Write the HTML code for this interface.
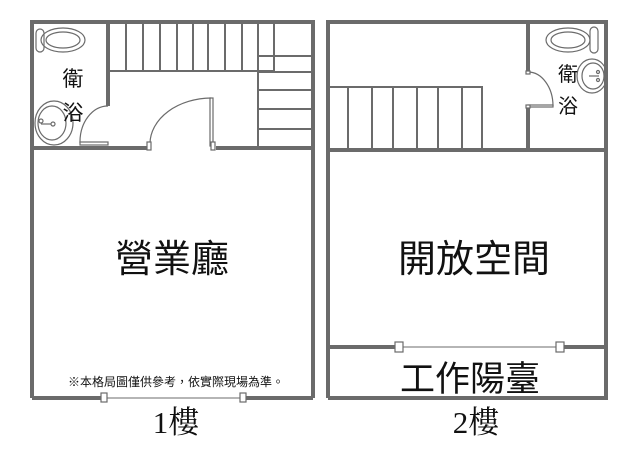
<!DOCTYPE html>
<html><head><meta charset="utf-8"><style>
body{margin:0;background:#fff;width:638px;height:460px;overflow:hidden}
</style></head><body>
<svg width="638" height="460" viewBox="0 0 638 460" xmlns="http://www.w3.org/2000/svg">
<g fill="none" stroke="#6b6b6b">
<g stroke-width="4">
<path d="M32 398 V22 H313 V398"/>
<path d="M108 22 V106"/>
<path d="M32 148 H148 M216 148 H313"/>
<path d="M32 398 H102 M245 398 H313"/>
</g>
<g stroke-width="2">
<path d="M110 71 H274 M126 24 V71 M143 24 V71 M160 24 V71 M177 24 V71 M193 24 V71 M208 24 V71 M225 24 V71 M242 24 V71 M258 24 V146 M274 24 V72"/>
<path d="M258 56 H311 M258 72 H311 M258 90 H311 M258 109 H311 M258 129 H311"/>
</g>
<g stroke-width="1.2">
<path d="M80 143 A 28 36 0 0 1 108 106"/>
<rect x="80" y="142" width="28" height="3" fill="#fff"/>
<rect x="210" y="98" width="3" height="48" fill="#fff"/>
<path d="M150 143 A 62 46 0 0 1 211 98"/>
<rect x="147" y="142" width="4" height="8" fill="#fff"/>
<rect x="211" y="142" width="4" height="8" fill="#fff"/>
<path d="M102 398 H245" stroke-width="1"/>
<rect x="101" y="393" width="6" height="9" fill="#fff"/>
<rect x="240" y="393" width="6" height="9" fill="#fff"/>
</g>
<g stroke-width="1.2">
<rect x="36" y="29" width="8" height="23" rx="4"/>
<ellipse cx="63" cy="40" rx="22" ry="12"/>
<ellipse cx="63" cy="40" rx="17" ry="8"/>
<ellipse cx="54" cy="123" rx="19" ry="22"/>
<ellipse cx="52" cy="123" rx="14" ry="17"/>
<circle cx="41" cy="121" r="2"/><circle cx="53" cy="124" r="2"/><path d="M41 124 H51"/>
</g>
<g stroke-width="4">
<path d="M328 398 V22 H606 V398 H328"/>
<path d="M528 22 V72 M528 106 V148"/>
<path d="M328 150 H606"/>
<path d="M328 347 H398 M560 347 H606"/>
</g>
<g stroke-width="2">
<path d="M328 87 H482 V148 M348 87 V148 M372 87 V148 M393 87 V148 M417 87 V148 M438 87 V148 M462 87 V148"/>
</g>
<g stroke-width="1.2">
<path d="M528 72 A 25 34 0 0 1 553 106"/>
<rect x="528" y="105" width="25" height="2" fill="#fff"/>
<rect x="526" y="71" width="4" height="3" fill="#fff"/>
<rect x="526" y="105" width="4" height="3" fill="#fff"/>
<path d="M398 347 H560" stroke-width="1"/>
<rect x="395" y="342" width="8" height="10" fill="#fff"/>
<rect x="556" y="342" width="8" height="10" fill="#fff"/>
<rect x="590" y="27" width="8" height="26" rx="4"/>
<ellipse cx="568" cy="40" rx="22" ry="12"/>
<ellipse cx="568" cy="40" rx="17" ry="8"/>
<ellipse cx="592" cy="76" rx="15" ry="17"/>
<ellipse cx="593" cy="76" rx="11" ry="13"/>
<circle cx="598" cy="72" r="1.5"/><circle cx="598" cy="80" r="1.5"/><path d="M589 76 H599"/>
</g>
</g>
<g font-family="Liberation Sans, Noto Sans CJK TC, sans-serif" fill="#111" text-anchor="middle">
<text x="73" y="86" font-size="21">衛</text>
<text x="73" y="120" font-size="21">浴</text>
<text x="568" y="81" font-size="20">衛</text>
<text x="568" y="113" font-size="20">浴</text>
<text x="172" y="272" font-size="38">營業廳</text>
<text x="474" y="272" font-size="38">開放空間</text>
<text x="470" y="391" font-size="35">工作陽臺</text>
<text x="176" y="386" font-size="12">※本格局圖僅供參考，依實際現場為準。</text>
</g>
<g font-family="Liberation Serif, Noto Serif CJK SC, serif" fill="#111" text-anchor="middle" font-size="31">
<text x="176" y="433">1樓</text>
<text x="476" y="433">2樓</text>
</g>
</svg>
</body></html>
